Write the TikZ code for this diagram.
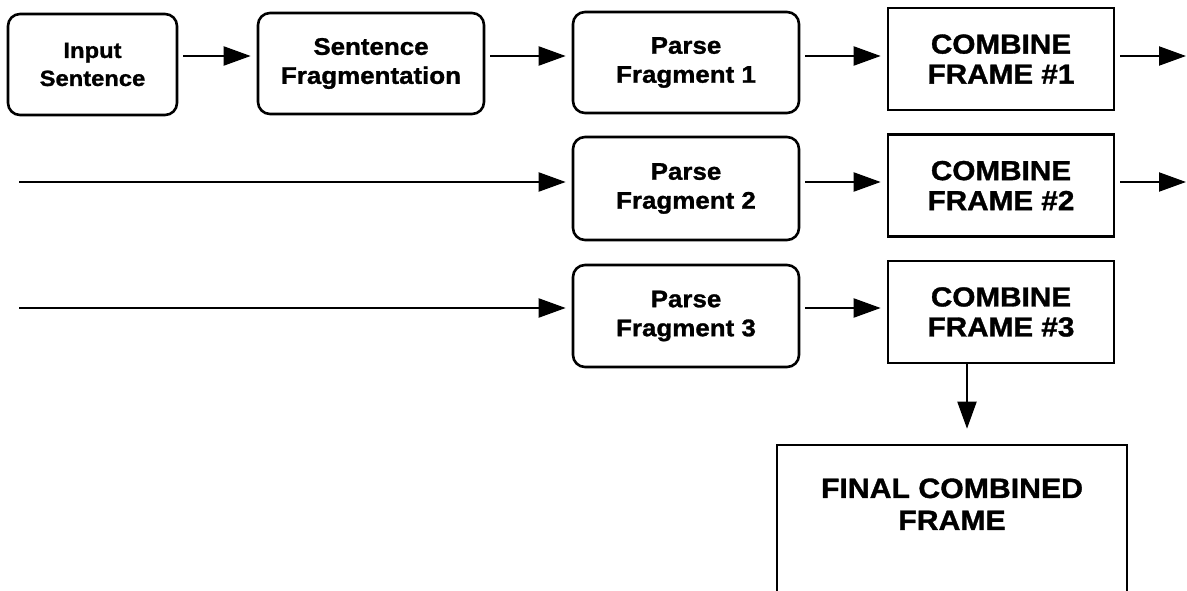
\documentclass[tikz,border=0pt]{standalone}
\usepackage{fontspec}
\setmainfont{Liberation Sans}[FakeStretch=1.08, BoldFeatures={FakeBold=1.2}]
\usetikzlibrary{arrows.meta}
\begin{document}
\begin{tikzpicture}[x=1pt,y=-1pt,
  stage/.style={draw, line width=2.6pt, rounded corners=12pt, inner sep=0pt,
    align=center, font=\fontsize{24}{29}\selectfont\bfseries},
  combbox/.style={draw, line width=2.6pt, inner sep=0pt, align=center,
    minimum width=226pt, minimum height=102pt,
    font=\fontsize{27.5}{30}\selectfont\bfseries},
  arr/.style={line width=2pt, -{Triangle[length=27pt,width=19pt]},
    shorten <=5pt, shorten >=6pt}]
\clip (0,0) rectangle (1187,591);
\useasboundingbox (0,0) rectangle (1187,591);

% guide coordinates for the rows and the free connector ends
\coordinate (r1) at (0,56);
\coordinate (r2) at (0,182);
\coordinate (r3) at (0,308);
\coordinate (s2) at (19,182);
\coordinate (s3) at (19,308);
\coordinate (e1) at (1186,56);
\coordinate (e2) at (1186,182);
\coordinate (dx) at (967,0);

% first row
\node[stage, minimum width=169pt, minimum height=101pt,
  font=\fontsize{22}{28}\selectfont\bfseries] (in) at (92.5,64.5) {Input\\Sentence};
\node[stage, minimum width=226pt, minimum height=101pt] (frag) at (371,63.5) {Sentence\\Fragmentation};
\node[stage, minimum width=226pt, minimum height=101pt] (p1) at (686,62.5) {Parse\\Fragment 1};
\node[combbox] (c1) at (1001,59) {COMBINE\\FRAME \#1};

% second and third rows
\node[stage, minimum width=226pt, minimum height=103pt] (p2) at (686,188.5) {Parse\\Fragment 2};
\node[combbox] (c2) at (1001,185.5) {COMBINE\\FRAME \#2};
\node[stage, minimum width=226pt, minimum height=102pt] (p3) at (686,316) {Parse\\Fragment 3};
\node[combbox] (c3) at (1001,312) {COMBINE\\FRAME \#3};

% final frame, running off the lower edge; the empty last line lifts the text
\node[draw, line width=2.6pt, inner sep=0pt, minimum width=350pt, minimum height=160pt,
  align=center, font=\fontsize{28}{32}\selectfont\bfseries]
  (fin) at (952,525) {FINAL COMBINED\\FRAME\\\strut};

% connectors
\draw[arr] (in.east |- r1) -- (frag.west |- r1);
\draw[arr] (frag.east |- r1) -- (p1.west |- r1);
\draw[arr] (p1.east |- r1) -- (c1.west |- r1);
\draw[arr, shorten >=0pt] (c1.east |- r1) -- (e1);

\draw[arr, shorten <=0pt] (s2) -- (p2.west |- r2);
\draw[arr] (p2.east |- r2) -- (c2.west |- r2);
\draw[arr, shorten >=0pt] (c2.east |- r2) -- (e2);

\draw[arr, shorten <=0pt] (s3) -- (p3.west |- r3);
\draw[arr] (p3.east |- r3) -- (c3.west |- r3);

\draw[arr, shorten <=0pt, shorten >=15pt] (c3.south -| dx) -- (fin.north -| dx);
\end{tikzpicture}
\end{document}
